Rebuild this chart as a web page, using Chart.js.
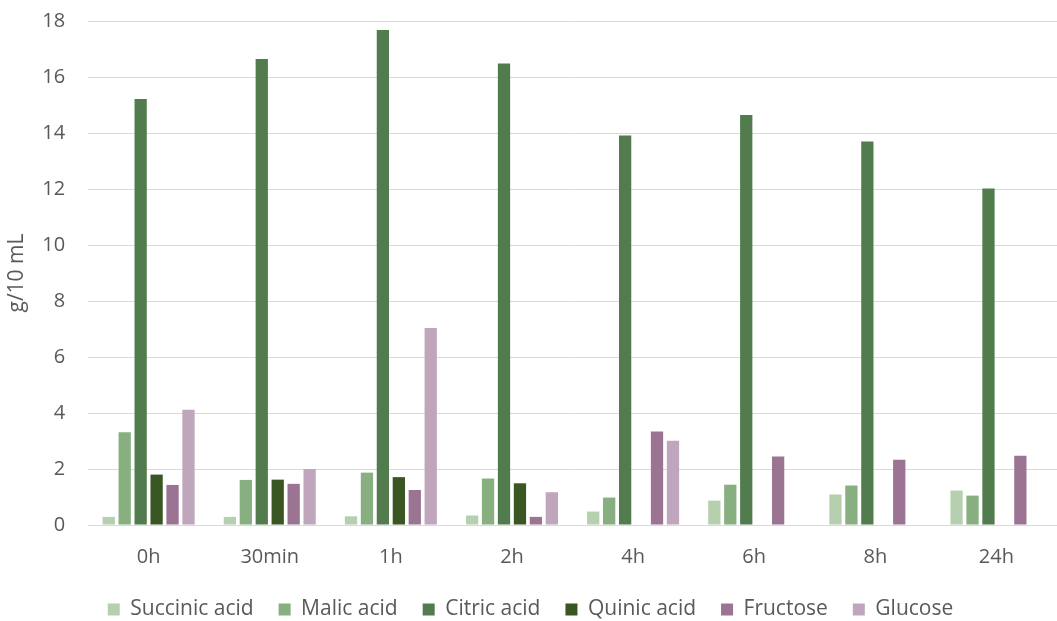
<!DOCTYPE html>
<html>
<head>
<meta charset="utf-8">
<script src="https://cdn.jsdelivr.net/npm/chart.js@4/dist/chart.umd.min.js"></script>
<style>
html,body{margin:0;padding:0;background:#fff;}
#wrap{width:1057px;height:621px;position:relative;}
</style>
</head>
<body>
<div id="wrap"><canvas id="c" width="1057" height="621"></canvas></div>
<script>
const categories = ["0h","30min","1h","2h","4h","6h","8h","24h"];
const succinic = [0.29,0.29,0.31,0.34,0.48,0.87,1.09,1.23];
const malic    = [3.31,1.61,1.87,1.66,0.98,1.44,1.41,1.05];
const citric   = [15.21,16.64,17.68,16.48,13.91,14.64,13.70,12.02];
const quinic   = [1.80,1.62,1.71,1.49,0,0,0,0];
const fructose = [1.43,1.47,1.25,0.29,3.34,2.45,2.33,2.47];
const glucose  = [4.12,2.00,7.04,1.17,3.01,0,0,0];
const seriesNames = ["Succinic acid","Malic acid","Citric acid","Quinic acid","Fructose","Glucose"];
const seriesColors = ["#b6d0af","#87af7f","#527c4e","#3a5723","#9b7494","#c0a6bd"];
const seriesData = [succinic, malic, citric, quinic, fructose, glucose];

const LEGEND_SHRINK = 9;
const X_EXTRA = -15;
const legendShift = {
  id: 'legendShift',
  beforeLayout(chart) {
    const lg = chart.legend;
    if (lg && !lg._shiftWrapped) {
      const orig = lg.fit;
      lg.fit = function() { orig.call(this); this.height -= LEGEND_SHRINK; };
      lg._shiftWrapped = true;
    }
  }
};

const FONT = "'Open Sans', sans-serif";
new Chart(document.getElementById('c'), {
  type: 'bar',
  data: {
    labels: categories,
    datasets: seriesNames.map((n,i)=>({
      label: n,
      data: seriesData[i],
      backgroundColor: seriesColors[i],
      borderWidth: 0,
      categoryPercentage: 0.79,
      barPercentage: 0.77
    }))
  },
  plugins: [legendShift],
  options: {
    responsive: false,
    animation: false,
    devicePixelRatio: 1,
    layout: { padding: { top: 0, right: 0, left: 4, bottom: 0 } },
    plugins: {
      legend: {
        position: 'bottom',
        labels: {
          font: { family: FONT, size: 21 },
          color: '#595959',
          boxWidth: 12,
          boxHeight: 12,
          padding: 25
        }
      },
      tooltip: { enabled: false }
    },
    scales: {
      x: {
        grid: { display: false, drawTicks: false },
        border: { color: '#d9d9d9', width: 1 },
        ticks: { font: { family: FONT, size: 20 }, color: '#595959', padding: 20 },
        afterFit(scale) { scale.height += X_EXTRA; }
      },
      y: {
        min: 0, max: 18,
        ticks: { stepSize: 2, font: { family: FONT, size: 20 }, color: '#595959', padding: 23 },
        grid: { color: '#d9d9d9', lineWidth: 1, drawTicks: false },
        border: { display: false },
        title: { display: true, text: 'g/10 mL', font: { family: FONT, size: 21 }, color: '#595959', padding: { top: 0, bottom: 0 } },
        afterFit(scale) { scale.width -= 10; scale.paddingTop = 21; }
      }
    }
  }
});
</script>
</body>
</html>
